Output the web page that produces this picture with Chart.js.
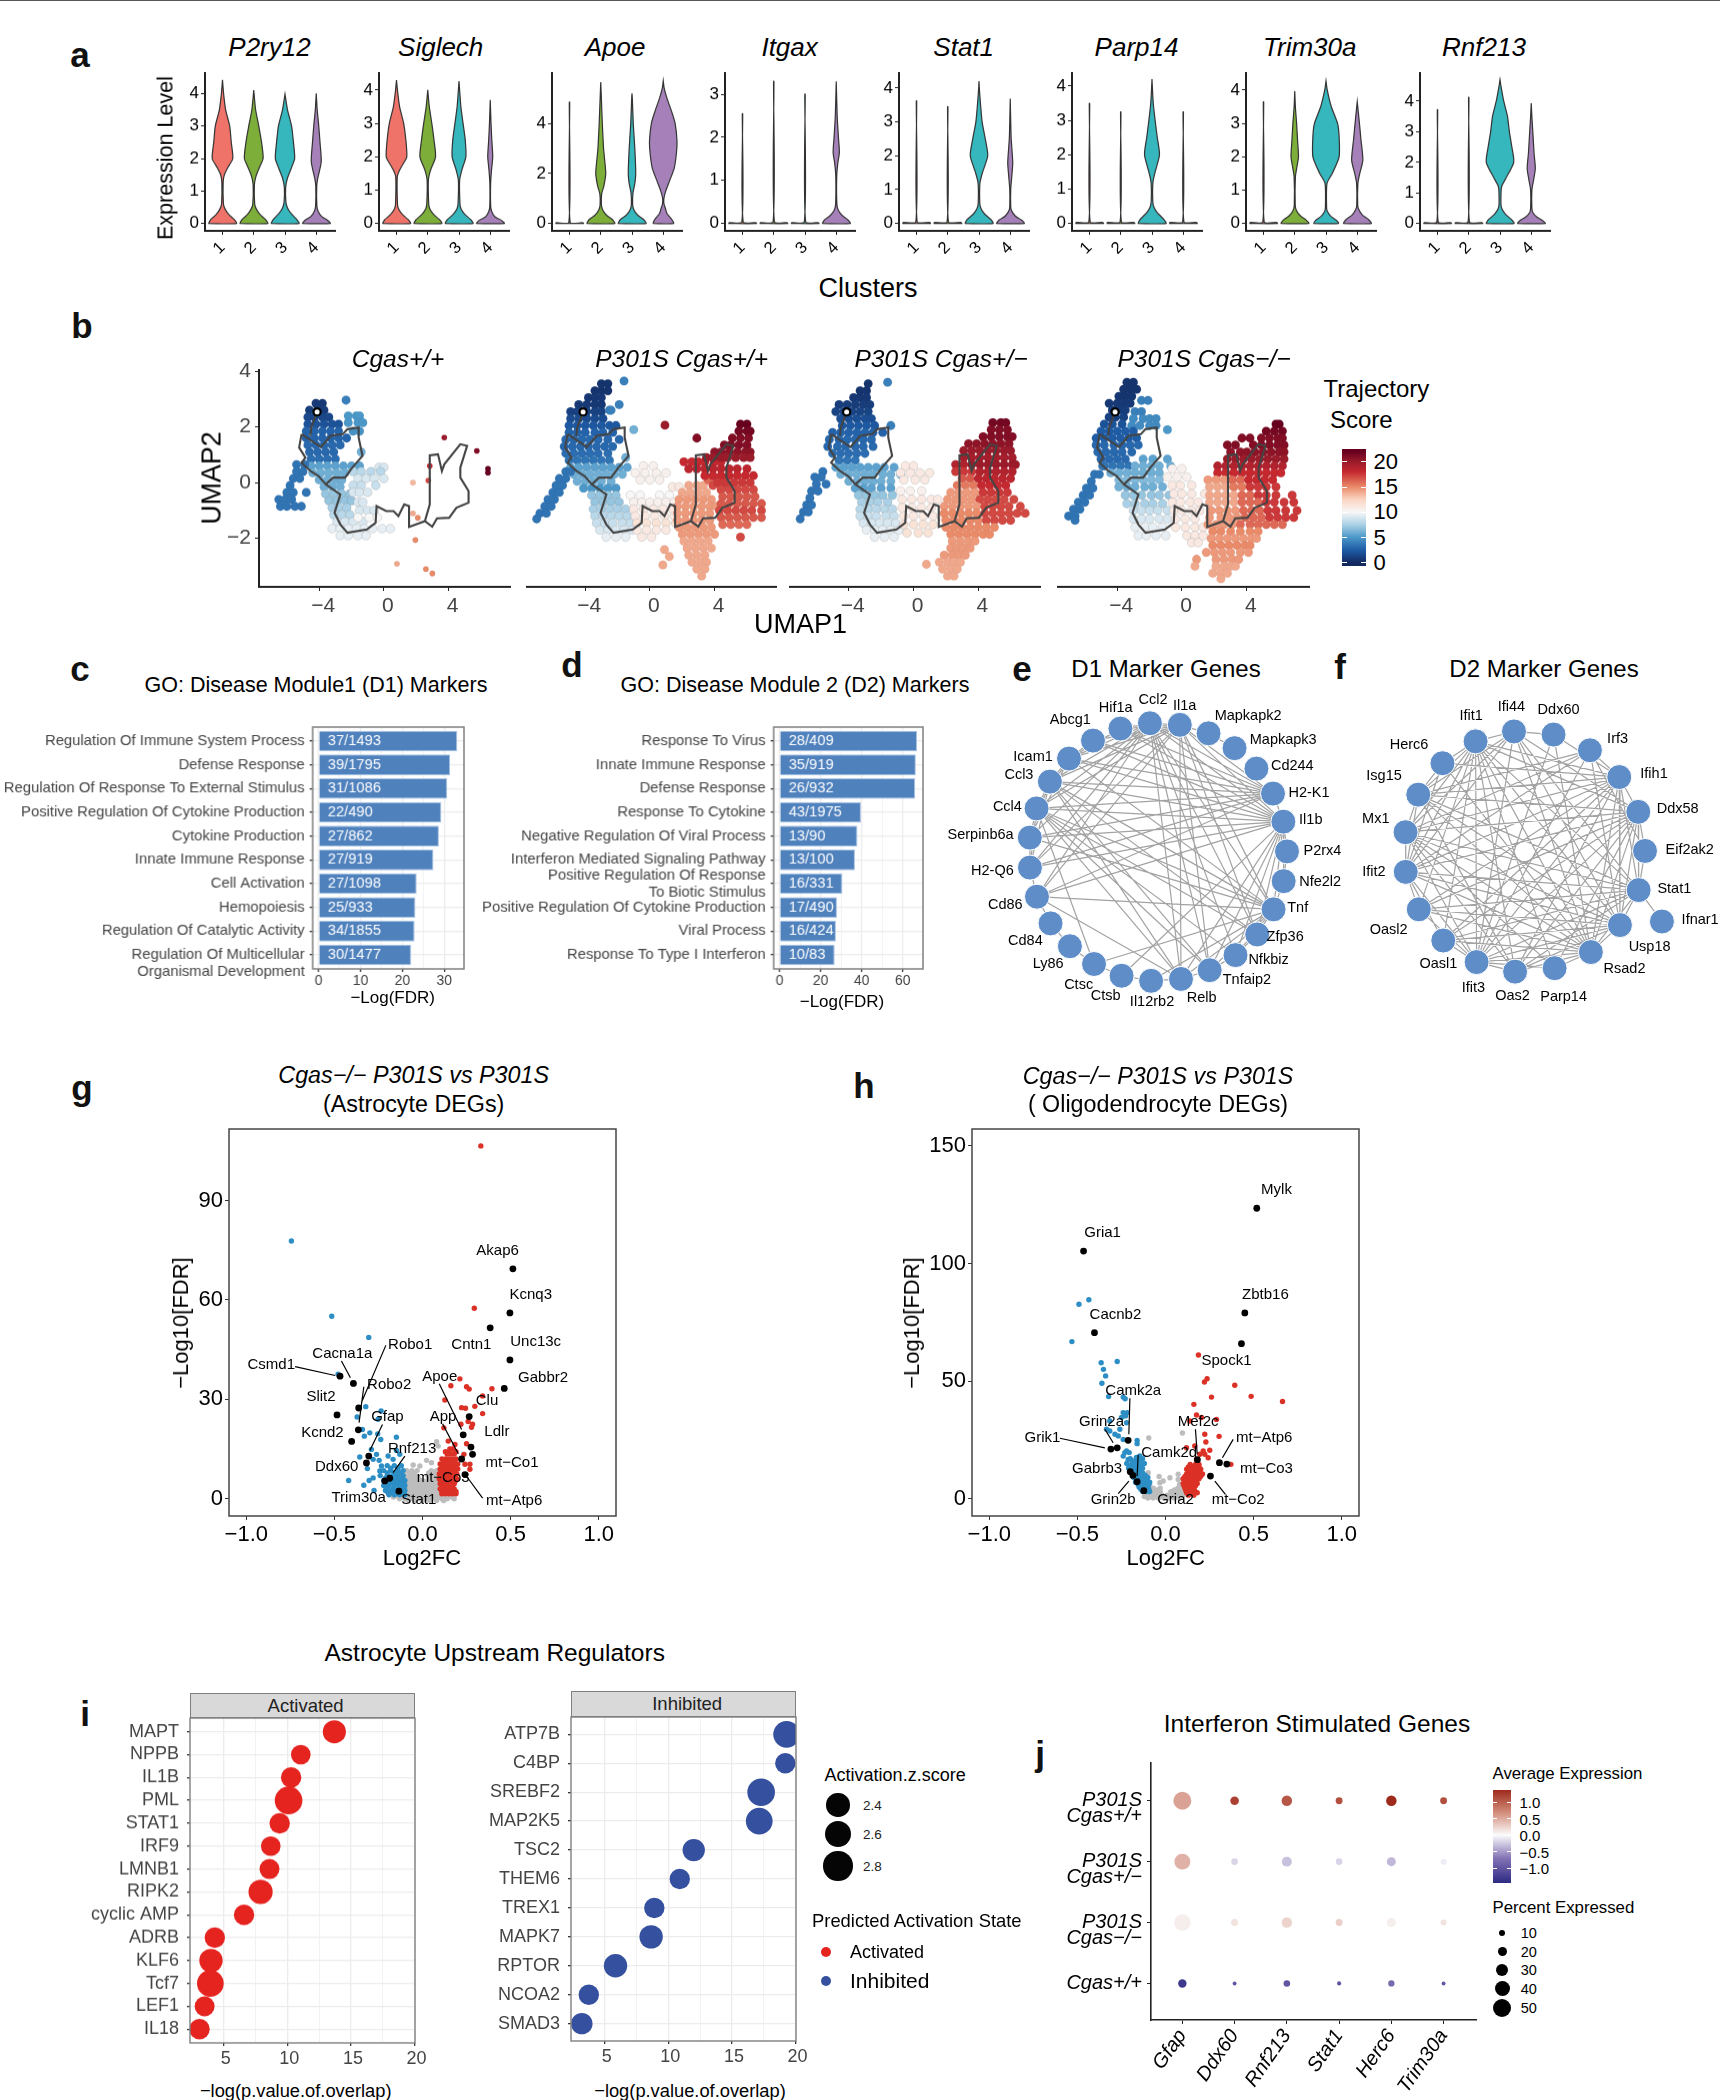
<!DOCTYPE html>
<html>
<head>
<meta charset="utf-8">
<title>Microglia panels</title>
<script src="https://cdn.jsdelivr.net/npm/chart.js@4"></script>
<style>
  body { margin: 0; background: #fff; }
  #figure { position: relative; width: 1720px; height: 2100px; overflow: hidden; border-top: 1px solid #555; box-sizing: border-box; }
  #figure canvas { position: absolute; }
  .txt { position: absolute; white-space: nowrap; font-family: "Liberation Sans", Arial, sans-serif; color: #000; }
</style>
</head>
<body>
<div id="figure"></div>
<script>
// ---- a: violins. Each violin is a flat list: y, half width, y, half width ...
const violinGenes = ['P2ry12', 'Siglech', 'Apoe', 'Itgax', 'Stat1', 'Parp14', 'Trim30a', 'Rnf213'];
const clusterTicks = [1, 2, 3, 4];
const clusterColors = ['#f0736a', '#7cae39', '#36b6bd', '#a681b9'];
const violinTop = [4.63, 4.51, 6.01, 3.49, 4.44, 4.38, 4.51, 4.92];
const violinBottom = [-0.226, -0.22, -0.293, -0.17, -0.217, -0.214, -0.22, -0.24];
const violinYTicks = [[0,1,2,3,4], [0,1,2,3,4], [0,2,4], [0,1,2,3], [0,1,2,3,4], [0,1,2,3,4], [0,1,2,3,4], [0,1,2,3,4]];
const violinP2ry12 = [
  [0,.45, .12,.38, .28,.2, .45,.08, .6,.03, 1.25,.02, 1.5,.06, 1.72,.17, 2,.33, 2.5,.28, 3,.23, 3.5,.1, 4,.035, 4.42,0],
  [0,.45, .12,.38, .28,.2, .45,.08, .6,.03, 1.2,.02, 1.45,.07, 1.7,.17, 2,.3, 2.5,.25, 3,.16, 3.5,.06, 4.1,0],
  [0,.45, .12,.38, .3,.2, .48,.08, .65,.03, 1.1,.02, 1.4,.08, 1.7,.2, 2,.31, 2.5,.27, 3,.21, 3.5,.08, 3.98,0],
  [0,.45, .1,.36, .22,.17, .38,.06, .55,.02, 1.15,.015, 1.4,.05, 1.9,.16, 2.5,.12, 3,.08, 3.5,.03, 4,0]
];
const violinSiglech = [
  [0,.45, .12,.37, .28,.18, .45,.06, .6,.03, 1.4,.025, 1.6,.1, 1.8,.22, 2,.33, 2.5,.3, 3,.23, 3.5,.1, 4,.03, 4.3,0],
  [0,.45, .12,.37, .28,.18, .45,.06, .6,.03, 1.3,.02, 1.6,.09, 2,.25, 2.5,.2, 3,.13, 3.5,.05, 4,0],
  [0,.45, .12,.37, .28,.18, .45,.06, .6,.03, 1.3,.02, 1.6,.09, 2,.22, 2.5,.2, 3,.13, 3.5,.06, 4,.02, 4.27,0],
  [0,.45, .1,.35, .2,.15, .35,.05, .5,.015, 1.2,.012, 1.6,.04, 2,.08, 2.5,.05, 3,.025, 3.7,0]
];
const violinApoe = [
  [0,.45, .03,.42, .05,.02, 4.85,.006],
  [0,.45, .15,.38, .35,.17, .55,.06, .75,.02, 1.2,.03, 1.5,.1, 2,.16, 2.6,.12, 3,.09, 4,.05, 5,.02, 5.65,0],
  [0,.45, .15,.38, .35,.17, .55,.06, .75,.02, 1.2,.03, 1.6,.09, 2,.12, 3,.09, 4,.04, 5,.01, 5.2,0],
  [0,.33, .15,.28, .4,.12, .6,.07, .8,.02, 1,.02, 1.3,.08, 1.7,.2, 2.2,.35, 2.8,.42, 3.3,.44, 4,.38, 4.5,.26, 5,.12, 5.4,.03, 5.7,0]
];
const violinItgax = [
  [0,.45, .02,.42, .04,.02, 2.55,.006],
  [0,.45, .02,.42, .04,.02, 3.3,.006],
  [0,.45, .02,.42, .04,.02, 3,.006],
  [0,.45, .08,.38, .18,.2, .3,.07, .45,.02, 1.1,.015, 1.4,.05, 1.65,.1, 2,.07, 2.5,.03, 3.3,0]
];
const violinStat1 = [
  [0,.45, .03,.42, .05,.02, 3.62,.006],
  [0,.45, .03,.42, .05,.02, 3.45,.006],
  [0,.45, .12,.38, .28,.18, .45,.06, .6,.025, 1.2,.03, 1.5,.11, 2,.28, 2.5,.2, 3,.1, 3.5,.05, 4,.01, 4.2,0],
  [0,.45, .1,.36, .22,.16, .38,.04, .5,.015, 1,.015, 1.4,.05, 1.8,.08, 2.5,.03, 3,.015, 3.68,0]
];
const violinParp14 = [
  [0,.45, .03,.42, .05,.02, 3.5,.006],
  [0,.45, .03,.42, .05,.02, 3.25,.006],
  [0,.45, .12,.38, .3,.18, .48,.06, .65,.025, 1.2,.03, 1.5,.1, 2,.24, 2.5,.17, 3,.1, 3.5,.04, 4,.01, 4.2,0],
  [0,.45, .03,.42, .05,.02, 3.25,.006]
];
const violinTrim30a = [
  [0,.45, .03,.42, .05,.02, 3.65,.006],
  [0,.45, .1,.37, .24,.17, .4,.05, .55,.015, 1.4,.02, 1.7,.07, 2,.12, 2.5,.09, 3,.06, 3.5,.02, 3.97,0],
  [0,.4, .1,.33, .22,.15, .35,.05, .45,.02, 1.2,.03, 1.5,.2, 2,.42, 2.6,.42, 3,.37, 3.5,.17, 4,.04, 4.27,0],
  [0,.45, .12,.36, .26,.16, .42,.05, .55,.015, 1.2,.02, 1.5,.08, 1.9,.18, 2.5,.12, 3,.07, 3.65,0]
];
const violinRnf213 = [
  [0,.45, .03,.42, .05,.02, 3.72,.006],
  [0,.45, .03,.42, .05,.02, 4.13,.006],
  [0,.45, .12,.38, .3,.18, .48,.06, .65,.03, 1.2,.05, 1.5,.2, 2,.44, 2.5,.38, 3,.3, 3.5,.24, 4,.12, 4.5,.03, 4.7,0],
  [0,.45, .1,.36, .22,.17, .36,.05, .5,.02, 1.1,.02, 1.4,.07, 1.8,.13, 2.3,.09, 3,.05, 3.5,.02, 3.93,0]
];
const violinSets = [violinP2ry12, violinSiglech, violinApoe, violinItgax, violinStat1, violinParp14, violinTrim30a, violinRnf213];

// ---- b: UMAP clouds. Each row: score, umap2, then the umap1 values read on that row
const umapTitles = ['Cgas+/+', 'P301S Cgas+/+', 'P301S Cgas+/−', 'P301S Cgas−/−'];
const umapXTicks = [-4, 0, 4];
const umapYTicks = [-2, 0, 2, 4];
const umapWt = [
  [.8,2.85,-4.2,-3.8], [1,2.6,-4.6,-4.1,-3.7], [1.5,2.35,-4.7,-4.3,-3.8,-3.4], [2,2.1,-4.7,-4.2,-3.7,-3.2,-2.8],
  [2.8,1.85,-4.8,-4.3,-3.8,-3.3,-2.8], [2.8,1.6,-4.8,-4.3,-3.8,-3.3,-2.8,-2.3], [3,1.35,-4.7,-4.2,-3.7,-3.2,-2.7],
  [3,1.1,-4.6,-4.1,-3.6,-3.1], [3.2,.85,-4.5,-4,-3.5,-3], [5.5,.6,-4.5,-4,-3.5,-3,-2.5,-2,-1.5], [6,.35,-4.4,-3.9,-3.4,-2.9,-2.4],
  [6,.1,-4,-3.5,-3,-2.6], [6,-.15,-3.7,-3.2,-2.7], [7,-.4,-3.6,-3.1,-2.6,-2.1], [7,-.65,-3.4,-2.9,-2.4,-2], [7.5,-.9,-3.2,-2.8,-2.3],
  [8,-1.15,-3.1,-2.6,-2.1], [9,-1.4,-2.9,-2.4,-1.9,-1.3], [9.5,-1.65,-3.2,-2.7,-2.2,-1.7,-1.2,-.7,-.1,.4], [9.5,-1.9,-2.7,-2.2,-1.6,-1.1],
  [5,2.4,-2.2,-1.7,-1.5], [5,2.15,-2.2,-1.6,-1.3], [4.8,1.85,-1.9,-1.5], [6,1.1,-1.4],
  [9,.55,-.3,0], [8,.4,-1.9,-1.4,-.8,-.2], [9,.15,-1.6,-1.1,-.6,0], [8.5,-.1,-1.9,-1.4,-.5], [9,-.35,-1.9,-1.5,-1], [9,-.7,-1.6,-1.3], [9,-1,-1.5,-1,-.6], [10,-1.25,-1.6,-.9,-.4],
  [3.5,.65,-5.4,-4.9], [3.5,.4,-5.4,-5], [3.5,.15,-5.6,-5.2], [3.5,-.1,-5.8], [3.5,-.35,-6,-5.6,-4.8], [3.5,-.6,-6.5,-6.1,-5.7], [3.5,-.85,-6.4,-6,-5.5,-5.1],
  [4,2.96,-2.34], [20,1.62,3.74], [21,1.14,5.75], [22,.5,6.44], [22,.36,6.44], [18,.6,2.84], [17,.08,2.75], [13.5,0,1.8], [14,-1.1,1.8], [15,-1.26,2.1], [15,-2.06,1.95], [14,-2.91,.81], [15,-3.1,2.6], [15,-3.26,3]
];
const umapP301S = [
  [4,3.65,-1.6], [.5,3.55,-3,-2.6], [.5,3.3,-3.4,-3,-2.6], [.7,3.05,-3.8,-3.4,-3], [.8,2.8,-4.4,-3.9,-3.4,-3], [4,2.8,-1.9], [1.2,2.55,-4.9,-4.5,-3.9,-3.4,-3], [4,2.6,-2.5,-2.4],
  [1.7,2.3,-4.9,-4.4,-3.9,-3.4,-2.9], [2.3,2.05,-5,-4.5,-4,-3.5,-3,-2.5,-2.1], [2.8,1.8,-5,-4.5,-4,-3.4,-2.9,-2.3], [3,1.55,-5.2,-4.7,-4.2,-3.7,-3.2,-2.6,-1.9], [6,1.9,-1],
  [3,1.3,-5.3,-4.8,-4.3,-3.8,-3.3,-2.8,-2.3], [3.2,1.05,-5.2,-4.7,-4.2,-3.7,-3.2,-2.6], [6,.9,-1.5], [3.5,.8,-5,-4.5,-4,-3.5,-3,-2.5],
  [5.5,.55,-4.9,-4.4,-3.9,-3.4,-2.9,-2.4,-1.9,-1.4], [6,.3,-4.7,-4.2,-3.7,-3.2,-2.7,-2.2,-1.7], [6,.05,-4.5,-4,-3.5,-3,-2.4], [5,-.2,-4.1,-3.6,-3.1,-2.6,-2.1],
  [7,-.45,-3.6,-3.1,-2.6,-2.1], [7,-.7,-3.4,-2.9,-2.4,-1.9], [7.5,-.95,-3.5,-3,-2.5,-2,-1.5], [8,-1.2,-3.4,-2.9,-2.4,-1.9,-1.4], [8.5,-1.45,-3.3,-2.8,-2.3,-1.7,-1.2], [9,-1.7,-3.1,-2.6,-2.1,-1.6,-1.1], [9.5,-1.95,-2.7,-2.1,-1.5],
  [3.5,.4,-5.2,-4.9], [3.5,.15,-5.6,-5.2], [3.5,-.1,-5.8,-5.4], [3.5,-.35,-6,-5.6], [3.5,-.6,-6.3,-5.9], [3.5,-.85,-6.5,-6.1], [3.5,-1.1,-6.8,-6.4], [3.5,-1.3,-7],
  [10.5,.6,-.4,.2], [10.5,.35,-.9,-.3,.4,1], [10.5,.1,-.6,0,.6], [11,-.15,1.4,1.8], [10,-.45,-1.2,-.6,.6,1.2], [10.5,-.7,-1,-.5,0,.5,1,1.5], [11,-.95,-1,-.4,.2,.8,1.4], [11,-1.2,-.9,-.3,.3,.9,1.5], [11.5,-1.45,-.8,-.2,.4,1,1.6], [11,-1.7,-.8,-.2,.4,1], [11,-1.95,-.5,.1],
  [14,-.1,2.4,2.9,3.3], [14,-.35,2,2.5,3,3.5], [14.5,-.6,1.8,2.3,2.8,3.3,3.8], [14.5,-.85,1.7,2.2,2.7,3.2,3.7,4.1], [14.5,-1.1,1.7,2.2,2.7,3.2,3.7], [14.5,-1.35,1.7,2.2,2.7,3.2,3.7], [14.5,-1.6,1.8,2.3,2.8,3.3,3.8], [14.5,-1.85,2,2.5,3,3.5,4], [14,-2.1,2.1,2.6,3.1,3.6], [14,-2.35,2.3,2.8,3.3,3.8], [14,-2.6,2.4,2.9,3.4], [14,-2.85,2.6,3.1,3.5], [14,-3.1,2.9,3.4], [14,-3.35,3.2], [14,-2.4,.9], [14,-2.95,.8], [14,-2.65,1.2],
  [16,.1,3.6,4,4.5], [17,-.1,3.9,4.4,4.9], [18,.75,2.1,2.6,3,3.4,4,4.4], [18.5,.5,2.4,2.9,3.4,3.9,4.4,4.9,5.4,6], [18,.25,3.4,3.9,4.4,4.9,5.4,5.9,6.4], [17.5,0,4.2,4.7,5.2,5.7,6.2], [17,-.25,4.4,4.9,5.4,5.9,6.4], [16.5,-.5,4.5,5,5.5,6,6.5], [16.5,-.75,4.4,4.9,5.4,5.9,6.4,6.9], [17,-1,4.3,4.8,5.3,5.8,6.3,6.9], [16.5,-1.25,4.4,4.9,5.4,5.9,6.4,6.9], [16,-1.5,4.5,5,5.5,6], [17,-1.95,5.6],
  [22,2.1,5.6,6], [21.5,1.85,5.5,6,6.2], [21,1.6,2.9,5.1,5.6,6.1], [21,1.35,4.6,5,5.5,6], [20.5,1.1,4,4.4,4.9,5.4,5.9,6.2], [20,.9,3.5,3.9,4.4,4.8,5.3,5.8,6.2], [20,2.06,.93]
];
const umapHet = [
  [4,3.6,-1.6], [.5,3.55,-2.8], [.5,3.3,-3.3,-2.9], [.7,3.05,-3.7,-3.3,-2.9], [1,2.8,-4.6,-4.1,-3.6,-3.1,-2.7], [1.3,2.55,-4.8,-4.3,-3.8,-3.3,-2.8], [1.8,2.3,-4.5,-4,-3.5,-3,-2.6],
  [2.3,2.05,-4.4,-3.9,-3.4,-2.9,-2.4], [4,2.05,-1.4], [2.8,1.8,-5,-4.5,-4,-3.5,-3,-2.5,-1.9], [3,1.55,-5.2,-4.6,-4.1,-3.6,-3.1,-2.6], [3,1.3,-5.3,-4.7,-4.2,-3.6,-3.1,-2.5], [3.2,1.05,-5,-4.5,-4,-3.5,-3], [3.5,.8,-4.6,-4.1,-3.6],
  [5.5,.55,-4.8,-4.3,-3.8,-3.3,-2.8,-2.3,-1.8,-1.2], [6,.3,-4.5,-4,-3.5,-3,-2.5,-1.9,-1.4,-.8], [6,.05,-4,-3.5,-3,-2.5,-2,-1.4], [5.5,-.2,-3.6,-3.1,-2.6,-2,-1.4], [7,-.45,-3.4,-2.9,-2.4,-1.9,-1.3], [7.5,-.7,-3.2,-2.7,-2.2,-1.6], [8,-.95,-3.3,-2.8,-2.3,-1.8,-1.3], [8.5,-1.2,-3.3,-2.8,-2.3,-1.7,-1.2], [9,-1.45,-3.1,-2.6,-2.1,-1.6,-1.1], [9.5,-1.7,-2.9,-2.4,-1.9,-1.4,-.9], [9.5,-1.95,-2.4,-1.8,-1.2],
  [3.5,.4,-5.6], [3.5,.2,-6.1,-5.7], [3.5,-.05,-6,-5.4], [3.5,-.3,-6.3,-5.9], [3.5,-.55,-6.4], [3.5,-.8,-6.6,-6.3], [3.5,-1.05,-6.8,-6.5], [3.5,-1.3,-7],
  [11,.6,-.5,0], [11,.35,-.8,-.2,.4,1], [11,.1,-.6,.1,.7], [10.5,-.3,-.8,-.2,.5], [11,-.6,-.7,-.1,.5,1.1,1.5], [11,-.9,-.7,-.1,.5,1.1], [11,-1.2,-.6,0,.6,1.2,1.7], [11.5,-1.5,-.6,0,.6,1.2], [11.5,-1.8,-.4,.3,.9],
  [21.5,2.15,4.9,5.4,5.7], [21,1.9,4.8,5.3,5.8], [21,1.65,4.3,4.8,5.3,5.8,6.1], [20.5,1.4,3.4,3.9,4.4,4.9,5.4,5.9], [20,1.15,3.1,3.6,4.1,4.6,5.1,5.6,6], [19.5,.9,3.1,3.6,4.1,4.6,5.1,5.6,6.1],
  [19,.65,2.6,3.1], [20,.65,3.6,4.1,4.6,5.1,5.6,6.1,6.3], [17.5,.4,2.6,3.1,3.6], [19,.4,4.1,4.6,5.1,5.6,6.1], [16.5,.15,3,3.5], [18.5,.15,4,4.5,5,5.5,6], [15.5,-.1,2.7,3.2,3.7], [18,-.1,4.2,4.7,5.2,5.7],
  [14.5,-.35,2.3,2.8,3.3,3.8], [17.5,-.35,4.3,4.8,5.3,5.8], [14.5,-.6,2.1,2.6,3.1,3.6], [17,-.6,4.1,4.6,5.1,5.6,6.2], [14.5,-.85,1.9,2.4,2.9,3.4,3.9], [17,-.85,4.4,4.9,5.4,5.9,6.6], [15,-1.1,1.9,2.4,2.9,3.4,3.9], [17,-1.1,4.4,4.9,5.4,5.9,6.4,6.9], [15,-1.35,2,2.5,3,3.5,4], [17,-1.35,4.5,5,5.5,6],
  [15,-1.6,2,2.5,3,3.5,4,4.5,5], [15,-1.85,2.3,2.8,3.3,3.8,4.3,4.7], [14.5,-2.1,2.4,2.9,3.4,3.8], [14.5,-2.35,2.3,2.7,3.1,3.5], [14.5,-2.6,1.9,2.4,2.8,3.2], [14,-2.85,1.6,2.1,2.5,2.9], [14,-3.1,1.8,2.3,2.7], [14,-3.35,2.1,2.5], [14,-2.93,.8]
];
const umapKo = [
  [.5,3.6,-3.4,-3], [.5,3.35,-3.6,-3.2,-2.8], [.6,3.1,-3.9,-3.5,-3.1], [.8,2.85,-4.5,-4,-3.6,-3.2], [1,2.6,-4.3,-3.9,-3.5], [1.2,2.35,-4.5,-4.1,-3.6],
  [4,2.95,-2.5,-2.1], [4,2.55,-2.9,-2.5], [4.5,2.3,-3,-2.4,-2,-1.6], [4.5,2.05,-3.1,-2.6,-2,-1.6], [5,1.9,-.9],
  [2,2.1,-4.8,-4.3,-3.7], [2.5,1.85,-5,-4.5,-4,-3.5,-3], [2.5,1.6,-5.3,-4.8,-4.3,-3.8,-3.3,-2.8], [3,1.35,-5.3,-4.8,-4.2,-3.7,-3.2,-2.7], [3,1.1,-5.2,-4.7,-4.2,-3.7,-3.1], [3,.85,-5,-4.5,-4,-3.5], [3.5,.6,-4.8,-4.3,-3.8,-3.3],
  [5.5,.85,-2.4,-1.8,-.9], [6,.6,-2.9,-2.4,-1.9,-1.4,-.7], [6,.35,-4.4,-3.9,-3.4,-2.9,-2.4,-1.9,-1.4], [6.5,.1,-3.9,-3.4,-2.9,-2.4,-1.9,-1.4], [6,-.15,-3.9,-3.4,-2.9,-2.3,-1.8,-1.2], [7,-.45,-3.5,-3,-2.5,-1.9,-1.4,-.8], [7.5,-.75,-3.4,-2.9,-2.3,-1.8,-1.2], [8.5,-1,-3,-2.5,-2,-1.5,-.9], [9,-1.3,-3,-2.5,-2,-1.4,-.9], [9.5,-1.6,-2.9,-2.3,-1.8,-1.2], [9.5,-1.9,-2.7,-2.2,-1.6,-1],
  [10.5,.5,-.6,0], [10.5,.2,-.9,-.3,.3], [11,-.1,-.6,-.1,.6], [11,-.4,-.5,0,.6,1.4], [11,-.7,-.6,-.1,.5,1], [11,-1,-.5,0,.6,1.1], [11,-1.3,-.4,.2,.8], [11,-1.6,-.4,.2,.8,1.3], [11,-1.9,.3,.8,1.3], [11,-2.15,.6,1],
  [3.5,.6,-4.9], [3.5,.3,-5.4,-5.1], [3.5,.05,-5.6], [3.5,-.2,-5.9,-5.5], [3.5,-.45,-6.1,-5.7], [3.5,-.7,-6.4,-6], [3.5,-.95,-6.7,-6.3], [3.5,-1.2,-7,-6.6], [3.5,-1.35,-6.6],
  [22,2.1,5.8,6], [21.5,1.85,5.2,5.7,6.2], [21,1.6,3.7,4.2,4.9,5.4,5.9,6.2], [21,1.35,2.8,3.3,4.4,4.9,5.4,5.9,6.3], [20.5,1.1,3,3.6,4,4.5,5,5.5,6,6.3], [20,.85,2.8,3.3,3.8,4.3,4.8,5.3,5.8,6.3], [19,.6,2.2,2.7,3.2,3.7,4.2,4.7,5.2,5.7,6.2], [18,.35,2.2,2.7,3.2,3.7,4.2,4.7,5.2,5.7,6.1],
  [14.5,.1,1.6,2.1,2.6], [16,.1,3.1,3.6], [18,.1,4.1,4.6,5.1,5.6], [14,-.15,1.7,2.2,2.7], [15.5,-.15,3.2,3.7], [17.5,-.15,4.2,4.7,5.2,5.8], [14,-.45,1.7,2.2,2.7,3.2], [16,-.45,3.7,4.2], [17.5,-.45,4.7,5.2,5.8,6.8], [14,-.7,1.7,2.2,2.7,3.2], [16,-.7,3.7,4.2,4.7], [17.5,-.7,5.2,5.7,6.3,6.9], [14.5,-1,1.8,2.3,2.8,3.3], [16,-1,3.8,4.3,4.8], [17.5,-1,5.3,5.8,6.4,7.1], [14.5,-1.25,1.7,2.4,2.9,3.4], [16,-1.25,3.9,4.4,4.9], [17.5,-1.25,5.4,5.9,6.4,6.9], [14.5,-1.5,1.6,2.1,2.6,3.1], [16,-1.5,3.6,4.2,4.7,5.2,5.7,6.2],
  [15,-1.75,1.9,2.4,3,3.6,4.2,4.7], [14.5,-2,1.8,2.3,2.8,3.3,3.8,4.3,4.6], [15,-2.25,1.9,2.4,2.9,3.4,3.9,4.2], [14.5,-2.5,1.5,2,2.5,3,3.6,4.1], [14.5,-2.75,.9,2.1,2.6,3.1,3.5], [14,-3,.8,2.1,2.6,3,3.3], [14,-3.25,1.9,2.4,2.8], [14,-3.45,2.4]
];
const umapSets = [umapWt, umapP301S, umapHet, umapKo];
const trajRoot = [[-4.13,2.54], [-4.49,1.98], [-4.55,1.68]];
const trajLoop = [[-5.09,1.74], [-3.89,1.28], [-3.29,1.68], [-2.54,1.74], [-2.25,1.92], [-1.56,1.98], [-1.56,1.62], [-1.32,.96], [-1.95,.54], [-2.4,.18], [-3.14,.18], [-3.59,-.06], [-4.04,.24], [-4.55,.42], [-5.09,.72], [-4.85,.9], [-5.24,1.26], [-5.09,1.74]];
const trajTail = [[-3.59,-.06], [-2.69,-.42], [-3.05,-1.08], [-2.69,-1.5], [-2.25,-1.8], [-1.05,-1.68], [-.51,-1.44], [-.45,-.84], [.15,-1.02], [.6,-1.02], [.9,-1.2], [1.26,-.78], [1.56,-.84], [1.56,-1.59], [2.54,-1.38], [2.99,-1.58], [3.29,-1.28], [4.04,-1.26], [4.49,-.9], [5.24,-.72], [5.24,-.3], [4.73,.18], [4.73,.54], [5.15,1.32], [4.73,1.38], [3.74,.66], [3.59,.42], [3.35,1.02], [2.84,.98], [2.84,-.78], [2.54,-1.38]];
const scoreStops = [[0,'#12295f'], [2.5,'#1f5ca6'], [5,'#4a97c8'], [7.5,'#a9d0e6'], [10,'#f7f7f7'], [12.5,'#fbd5c2'], [15,'#e98a69'], [18,'#c5282f'], [20,'#9a1b2a'], [22,'#67001f']];

// ---- c, d: GO terms
const goD1Terms = ['Regulation Of Immune System Process', 'Defense Response', 'Regulation Of Response To External Stimulus', 'Positive Regulation Of Cytokine Production', 'Cytokine Production', 'Innate Immune Response', 'Cell Activation', 'Hemopoiesis', 'Regulation Of Catalytic Activity', ['', 'Regulation Of Multicellular', 'Organismal Development']];
const goD1Values = [33.1, 31.4, 30.7, 29.3, 28.7, 27.4, 23.4, 23.1, 22.9, 22.1];
const goD1Counts = ['37/1493', '39/1795', '31/1086', '22/490', '27/862', '27/919', '27/1098', '25/933', '34/1855', '30/1477'];
const goD2Terms = ['Response To Virus', 'Innate Immune Response', 'Defense Response', 'Response To Cytokine', 'Negative Regulation Of Viral Process', 'Interferon Mediated Signaling Pathway', ['Positive Regulation Of Response', 'To Biotic Stimulus'], 'Positive Regulation Of Cytokine Production', 'Viral Process', 'Response To Type I Interferon'];
const goD2Values = [67, 66.4, 66.1, 39.6, 37.9, 36.7, 30.6, 28, 27.4, 26.8];
const goD2Counts = ['28/409', '35/919', '26/932', '43/1975', '13/90', '13/100', '16/331', '17/490', '16/424', '10/83'];

// ---- e, f: networks. Edge rows: hub index, then its neighbours
const d1Genes = ['Ccl2','Il1a','Mapkapk2','Mapkapk3','Cd244','H2-K1','Il1b','P2rx4','Nfe2l2','Tnf','Zfp36','Nfkbiz','Tnfaip2','Relb','Il12rb2','Ctsb','Ctsc','Ly86','Cd84','Cd86','H2-Q6','Serpinb6a','Ccl4','Ccl3','Icam1','Abcg1','Hif1a'];
const d1Edges = [
  [6,0,1,26,25,24,23,22,21,20,19,9,8,7,13,12,11,10,15,5],
  [5,0,1,26,25,24,23,22,21,20,19],
  [9,0,1,24,23,22,21,19,8,10,11,12,13,14,16],
  [0,1,26,25,24,23,22,21,20,19,12,11,13,10],
  [1,2,26,25,24,23,22,20,13,12,10,19],
  [22,23,24,21,20,13,11,10,12,16],
  [23,24,25,21,20,12,13,10],
  [24,25,26,21],
  [19,18,20,13],
  [2,3],[17,18,16],[16,15],[15,14],[14,13],[13,12],[12,11],[11,10],[8,7],[21,20]
];
const d2Genes = ['Ifi44','Ddx60','Irf3','Ifih1','Ddx58','Eif2ak2','Stat1','Usp18','Rsad2','Parp14','Oas2','Ifit3','Oasl1','Oasl2','Ifit2','Mx1','Isg15','Herc6','Ifit1'];
const d2Edges = [
  [3,18,16,15,14,13,12,11,10,8,7,6,4,2,1,17],
  [4,18,0,16,15,14,13,12,11,10,9,8,7,6,5],
  [6,18,0,16,15,14,13,12,11,10,8,7,5,19],
  [7,18,0,2,16,15,14,13,12,11,10,8],
  [8,18,0,1,3,16,15,14,13,12,11,10,9,17],
  [11,18,0,1,2,15,14,13,12,10,9],
  [18,17,16,15,14,13,12,0,9,10],
  [15,14,16,0,2,10,9],
  [14,13,12,0,2,16,17],
  [16,17,0,2,10],
  [0,1],[2,5]
];

// ---- g: astrocyte volcano. Rows of dense clouds: y, then x values
const astroGrey = [[.08,17.2],[.023,11.6],[-.053,10.2],[-.015,9.9],[.051,10.9],[.089,15.9]];
const astroGreyRows = [[8.5,-.09,-.06,-.03,.05,.08], [7.8,-.075,-.045,.035,.065], [7,-.1,-.07,-.04,.03,.06,.09], [6.2,-.085,-.055,-.025,.045,.075], [5.5,-.09,-.06,-.03,0,.03,.06,.09], [4.8,-.085,-.055,-.025,.005,.035,.065], [4,-.1,-.07,-.04,-.01,.02,.05,.08,.1], [3.2,-.085,-.055,-.025,.005,.035,.065,.095], [2.5,-.1,-.07,-.04,-.01,.02,.05,.08,.11], [1.8,-.115,-.085,-.055,-.025,.005,.035,.065,.095], [1,-.15,-.12,-.09,-.06,-.03,0,.03,.06,.09,.12,.15], [.5,-.165,-.135,-.105,-.075,-.045,-.015,.015,.045,.075,.105,.135,.165], [0,-.13,-.1,-.07,-.04,-.01,.02,.05,.08,.11,.14,.18], [-.5,-.08,-.04,0,.04,.08,.12]];
const astroBlue = [[-.744,77.8],[-.515,55.1],[-.305,48.7],[-.479,37.6],[-.322,27.8],[-.235,26.5],[-.371,24.7],[-.252,24],[-.341,20.9],[-.299,19.9],[-.33,18.9],[-.254,19.6],[-.237,17.9],[-.148,18.6],[-.29,14.9],[-.356,12.6],[-.261,13.4],[-.246,11.6],[-.28,11.9],[-.313,9.1],[-.419,5.5],[-.333,4.1],[-.28,6.3],[-.275,2.5],[-.303,5.5],[-.242,8.4],[-.233,9.9],[-.195,12.9],[-.148,14.6],[-.167,11.9],[-.129,13.4]];
const astroBlueRows = [[10,-.2,-.16,-.12], [9.2,-.18,-.14], [8.5,-.22,-.18,-.14,-.11], [7.8,-.2,-.16,-.12], [7,-.24,-.2,-.17,-.14,-.11], [6.2,-.21,-.175,-.145,-.115], [5.5,-.22,-.19,-.16,-.13,-.1], [4.8,-.205,-.175,-.145,-.115], [4,-.22,-.19,-.16,-.13,-.1], [3.2,-.205,-.165,-.135,-.105], [2.5,-.21,-.18,-.15,-.12,-.1], [1.8,-.195,-.165,-.135,-.105], [1.2,-.19,-.16,-.13,-.1]];
const astroRed = [[.331,106.5],[.294,57.5],[.212,36.2],[.161,34.1],[.25,33.8],[.265,33.1],[.394,33.2],[.341,31],[.127,29.8],[.297,27.9],[.222,27.5],[.244,27.3],[.341,25.7],[.259,23.3],[.218,22.5],[.284,22.5],[.278,21.6],[.121,21.4],[.146,17.4],[.25,16.6],[.184,16.4],[.235,13.4],[.269,10.4],[.269,8.9],[.241,10.4]];
const astroRedRows = [[15,.155,.17], [14.2,.13,.15,.19], [13.5,.14,.16,.18], [12,.11,.13,.15,.17,.19], [11.2,.12,.14,.16,.18], [10.5,.1,.12,.14,.16,.18,.2], [9.7,.11,.13,.15,.17,.19], [9,.1,.12,.14,.16,.18,.2], [8.2,.105,.125,.145,.165,.185], [7.5,.095,.115,.135,.155,.175,.195], [6.8,.105,.125,.145,.165,.185], [6,.095,.115,.135,.155,.175,.195], [5.2,.105,.125,.145,.165,.185], [4.5,.1,.12,.14,.16,.18], [3.7,.11,.13,.15,.17], [3,.1,.12,.14,.16,.18], [2.2,.11,.13,.15,.17,.19], [1.5,.11,.13,.15,.17,.19]];
const astroBlack = [[.513,69.4],[.496,56.1],[.384,51.6],[.496,41.9],[.464,33.3],[-.468,37],[-.392,34.8],[-.362,27.4],[-.485,25.3],[-.364,20.8],[-.402,17.3],[-.305,12.9],[-.318,10.8],[-.186,6.2],[-.214,5.4],[-.134,2.3],[.265,24.8],[.231,19.3],[.275,15.6],[.284,13.4],[.222,12],[.241,7.3]];
const astroLabels = [['Akap6',.426,74.8],['Kcnq3',.614,61.6],['Cntn1',.277,46.4],['Unc13c',.642,47.3],['Gabbr2',.684,36.6],['Csmd1',-.858,40.3],['Cacna1a',-.455,43.8],['Robo1',-.07,46.5],['Robo2',-.189,34.3],['Slit2',-.576,30.8],['Gfap',-.199,24.6],['Kcnd2',-.568,20],['Rnf213',-.059,15.2],['Ddx60',-.487,9.6],['Trim30a',-.362,.2],['Stat1',-.021,-.4],['Apoe',.098,36.8],['App',.117,24.6],['Clu',.366,29.7],['Ldlr',.422,20.3],['mt−Co1',.508,10.8],['mt−Co3',.117,6.2],['mt−Atp6',.52,-.5]];
const astroLeaders = [[-.723,39.9,-.496,37.2],[-.46,41.6,-.409,36.5],[-.208,46.3,-.347,29],[-.333,33.8,-.36,23],[-.227,22.4,-.299,14.6],[-.1,12.9,-.167,7.9],[.095,34.7,.222,20.9],[.114,22.6,.203,13.6],[.341,.2,.25,6.8]];

// ---- h: oligodendrocyte volcano
const oligoGrey = [[-.095,25.8],[.096,27.9],[-.098,11],[-.036,9.4],[-.013,7.5],[.025,8.9],[-.032,6.8],[.072,10.4],[.072,8.2]];
const oligoGreyRows = [[6,-.09,.08], [4.5,-.1,-.07,-.03,.07,.1], [3.7,-.075,-.05,.05,.085], [3,-.09,-.06,-.03,.03,.06,.09], [2.2,-.1,-.07,-.04,.05,.08], [1.5,-.11,-.08,-.05,-.02,.01,.04,.07,.1], [.9,-.12,-.09,-.06,-.03,0,.03,.06,.09], [.3,-.1,-.07,-.04,-.01,.02,.05,.08]];
const oligoBlue = [[-.491,82.7],[-.435,84.6],[-.531,66.8],[-.365,57.8],[-.274,58.3],[-.352,55],[-.34,52.2],[-.361,49.1],[-.323,43.4],[-.24,43.2],[-.229,42.5],[-.24,36.6],[-.217,36.6],[-.227,35.2],[-.25,34.5],[-.221,32.3],[-.316,33],[-.335,29.5],[-.316,28.8],[-.259,29.5],[-.287,27.4],[-.268,26.7],[-.24,25.2],[-.161,24.8],[-.161,23.4],[-.221,20.3],[-.231,19.6],[-.206,19.6],[-.24,18.1],[-.212,16.7],[-.165,17.5],[-.146,18.2]];
const oligoBlueRows = [[17,-.2,-.16,-.13], [16,-.18,-.145], [15,-.22,-.19,-.16,-.12], [14,-.205,-.175,-.14], [13,-.21,-.18,-.15,-.13], [12,-.195,-.165,-.14], [11,-.19,-.16,-.13], [10,-.17,-.145,-.115], [9,-.18,-.15,-.12,-.1], [8,-.165,-.135,-.105], [7,-.17,-.14,-.11,-.09], [6,-.155,-.125,-.095], [5,-.15,-.13,-.1], [4,-.14,-.115,-.095], [3,-.13,-.11,-.09]];
const oligoRed = [[.187,61.1],[.236,51],[.221,49.6],[.393,48.2],[.261,43.2],[.486,43.5],[.664,41.3],[.161,40.1],[.176,35.6],[.204,34.5],[.289,33.7],[.138,33],[.223,27.4],[.304,26.5],[.229,24.1],[.166,22.4],[.119,21.7],[.251,20.6],[.214,20.3],[.242,17.4],[.371,14.6],[.195,18.9],[.176,16.7],[.223,18.9]];
const oligoRedRows = [[14.5,.14,.17,.19], [13.5,.13,.16,.19], [12.5,.12,.15,.18,.2], [11.5,.13,.165,.195], [10.5,.12,.15,.18,.21], [9.5,.11,.14,.17,.2], [8.5,.1,.13,.16,.19], [7.5,.115,.145,.175], [6.5,.1,.13,.16,.18], [5.5,.105,.13,.15,.17], [4.5,.11,.13,.16], [3.5,.115,.14,.165], [2.5,.12,.15,.18], [1.5,.13,.16]];
const oligoBlack = [[.518,123.5],[-.465,105.3],[.45,79],[-.403,70.6],[.431,65.9],[-.212,24.8],[-.274,21.6],[-.31,21.1],[.181,16.6],[.306,15.3],[.348,14.7],[.255,9.6],[-.2,11.5],[-.185,9.9],[-.161,7.2],[-.123,3.4]];
const oligoLabels = [['Mylk',.63,131.2],['Gria1',-.357,112.9],['Zbtb16',.567,86.6],['Cacnb2',-.284,78.3],['Spock1',.346,58.4],['Camk2a',-.183,45.8],['Grin2a',-.363,32.5],['Grik1',-.698,25.9],['Mef2c',.185,32.5],['mt−Atp6',.56,25.8],['Camk2d',.021,19.3],['Gabrb3',-.388,12.6],['mt−Co3',.573,12.6],['Grin2b',-.297,-.7],['Gria2',.057,-.7],['mt−Co2',.412,-.7]];
const oligoLeaders = [[-.202,42.7,-.208,27.4],[-.344,29.5,-.297,23.8],[-.599,25.7,-.344,21.6],[.17,29.5,.18,18.9],[.384,25.2,.323,17.4],[-.155,18.6,-.161,9.6],[-.208,7.5,-.268,2.1],[.28,7.5,.34,1.8]];
const volcanoXTicks = [-1, -.5, 0, .5, 1];

// ---- i: upstream regulators
const activatedNames = ['MAPT','NPPB','IL1B','PML','STAT1','IRF9','LMNB1','RIPK2','cyclic AMP','ADRB','KLF6','Tcf7','LEF1','IL18'];
const activatedLogP = [13.7, 11.06, 10.3, 10.1, 9.4, 8.7, 8.6, 7.9, 6.6, 4.3, 4.0, 3.95, 3.5, 3.1];
const activatedZ = [2.38, 2.15, 2.2, 2.68, 2.2, 2.15, 2.17, 2.45, 2.2, 2.2, 2.4, 2.62, 2.17, 2.2];
const inhibitedNames = ['ATP7B','C4BP','SREBF2','MAP2K5','TSC2','THEM6','TREX1','MAPK7','RPTOR','NCOA2','SMAD3'];
const inhibitedLogP = [19.3, 19.2, 17.3, 17.15, 12, 10.9, 8.9, 8.65, 5.85, 3.75, 3.2];
const inhibitedZ = [2.62, 2.2, 2.68, 2.62, 2.33, 2.2, 2.2, 2.4, 2.4, 2.2, 2.27];
const regulatorTicks = [5, 7.5, 10, 12.5, 15, 17.5, 20];

// ---- j: dot plot
const dotGenes = ['Gfap','Ddx60','Rnf213','Stat1','Herc6','Trim30a'];
const dotGroups = [['', 'P301S', 'Cgas+/+'], ['', 'P301S', 'Cgas+/−'], ['', 'P301S', 'Cgas−/−'], 'Cgas+/+'];
const dotPercent = [[50,19,25,13,25,13], [43,12,23,12,20,10], [45,13,25,13,20,10], [18,3,12,4,11,3]];
const dotExpression = [[.55,1.2,1.05,1.1,1.4,1.1], [.45,-.2,-.3,-.2,-.35,-.08], [.08,.15,.25,.28,.08,.15], [-1.3,-1,-1,-1,-.8,-1]];
const exprStops = [[-1.45,'#2d2a83'], [-.7,'#8473b6'], [0,'#fbfbfb'], [.7,'#d18a78'], [1.36,'#9e2a1c']];

// ------------------------------------------------------------------ helpers
const FONT = '"Liberation Sans", Arial, sans-serif';
Chart.defaults.font.family = FONT;
const figure = document.getElementById('figure');

function addText(text, x, y, o = {}) {
    const div = document.createElement('div');
    div.className = 'txt';
    div.textContent = text;
    div.style.left = x + 'px';
    div.style.top = y + 'px';
    div.style.fontSize = (o.size || 16) + 'px';
    if (o.italic) div.style.fontStyle = 'italic';
    if (o.bold) div.style.fontWeight = 'bold';
    if (o.color) div.style.color = o.color;
    const shift = o.left ? 'translate(0,-50%)' : 'translate(-50%,-50%)';
    div.style.transform = shift + (o.rotate ? ` rotate(${o.rotate}deg)` : '');
    figure.appendChild(div);
}

function addBox(x, y, w, h, style) {
    const div = document.createElement('div');
    div.style.cssText = `position:absolute;left:${x}px;top:${y}px;width:${w}px;height:${h}px;box-sizing:border-box;` + style;
    figure.appendChild(div);
    return div;
}

function hexToRgb(hex) {
    return [1, 3, 5].map(i => parseInt(hex.substr(i, 2), 16));
}

function rampColor(stops, v) {
    if (v <= stops[0][0]) return stops[0][1];
    for (let i = 1; i < stops.length; i++) {
        if (v <= stops[i][0]) {
            const t = (v - stops[i - 1][0]) / (stops[i][0] - stops[i - 1][0]);
            const a = hexToRgb(stops[i - 1][1]), b = hexToRgb(stops[i][1]);
            return `rgb(${a.map((c, k) => Math.round(c + (b[k] - c) * t)).join(',')})`;
        }
    }
    return stops[stops.length - 1][1];
}

// linear axis with its ticks placed exactly where the figure has them
function axis(o) {
    const labelOf = o.label || (v => String(v).replace('-', '−'));
    return {
        type: 'linear', min: o.min, max: o.max, reverse: !!o.reverse, offset: false,
        display: o.display !== false,
        afterBuildTicks: s => { s.ticks = o.at.map(v => ({ value: v })); },
        ticks: {
            autoSkip: false, maxRotation: o.rotate || 0, minRotation: o.rotate || 0, padding: o.padding === undefined ? 3 : o.padding,
            labelOffset: o.labelOffset || 0, color: o.color || '#000', font: o.font, callback: labelOf
        },
        grid: Object.assign({ drawOnChartArea: false, color: '#222', tickLength: 4, offset: false }, o.grid || {}),
        border: Object.assign({ display: true, color: '#222', width: 1.6 }, o.border || {})
    };
}

// canvas sized so the chart area lands on rect, whatever the tick labels need
function makeChart(rect, m, config) {
    const canvas = document.createElement('canvas');
    const w = rect.r - rect.l + m.l + m.r, h = rect.b - rect.t + m.t + m.b;
    canvas.width = w;
    canvas.height = h;
    canvas.style.left = (rect.l - m.l) + 'px';
    canvas.style.top = (rect.t - m.t) + 'px';
    canvas.style.width = w + 'px';
    canvas.style.height = h + 'px';
    figure.appendChild(canvas);

    const x = config.options.scales.x, y = config.options.scales.y;
    x.afterFit = s => {
        if (x.display !== false) s.height = m.b;
        s.paddingLeft = s.paddingRight = s.paddingTop = s.paddingBottom = 0;
    };
    y.afterFit = s => {
        if (y.display !== false) s.width = m.l;
        s.paddingLeft = s.paddingRight = s.paddingTop = s.paddingBottom = 0;
    };
    config.options.responsive = false;
    config.options.animation = false;
    config.options.events = [];
    config.options.layout = { autoPadding: false, padding: {
        left: y.display === false ? m.l : 0, top: m.t, right: m.r, bottom: x.display === false ? m.b : 0
    } };
    config.options.plugins = Object.assign({ legend: { display: false }, tooltip: { enabled: false } }, config.options.plugins || {});
    return new Chart(canvas, config);
}

// fills the closed outline of line datasets that carry closedFill
const closedFillPlugin = {
    id: 'closedFill',
    beforeDatasetDraw(chart, args) {
        const ds = chart.data.datasets[args.index];
        if (!ds.closedFill) return;
        const line = args.meta.dataset, ctx = chart.ctx;
        line.updateControlPoints(chart.chartArea, 'x');
        ctx.save();
        ctx.beginPath();
        line.path(ctx);
        ctx.closePath();
        ctx.fillStyle = ds.closedFill;
        ctx.fill();
        ctx.restore();
    }
};

function framePlugin(color, width) {
    return {
        id: 'frame',
        afterDatasetsDraw(chart) {
            const a = chart.chartArea, ctx = chart.ctx;
            ctx.save();
            ctx.strokeStyle = color;
            ctx.lineWidth = width;
            ctx.strokeRect(a.left, a.top, a.right - a.left, a.bottom - a.top);
            ctx.restore();
        }
    };
}

// text placed at data positions, on top of everything
function dataTextPlugin(items, font, color, dx) {
    return {
        id: 'dataText',
        afterDatasetsDraw(chart) {
            const ctx = chart.ctx;
            ctx.save();
            ctx.font = font;
            ctx.fillStyle = color;
            ctx.textAlign = dx ? 'left' : 'center';
            ctx.textBaseline = 'middle';
            items.forEach(([text, x, y]) => {
                ctx.fillText(text, chart.scales.x.getPixelForValue(x) + (dx || 0), chart.scales.y.getPixelForValue(y));
            });
            ctx.restore();
        }
    };
}

// rows of [y, x, x, ...] become points
function rowsToPoints(rows) {
    const out = [];
    rows.forEach(([y, ...xs]) => xs.forEach(x => out.push({ x, y })));
    return out;
}
const pairsToPoints = pairs => pairs.map(([x, y]) => ({ x, y }));

// ------------------------------------------------------------------ a
function drawViolins() {
    const lefts = [205, 379, 552, 725, 899, 1072, 1246, 1419.5];
    const titleX = [269.5, 440.7, 615, 789.6, 963.7, 1136.5, 1309.8, 1484];
    violinGenes.forEach((gene, g) => {
        const datasets = violinSets[g].map((profile, c) => {
            const right = [], leftSide = [];
            for (let i = 0; i < profile.length; i += 2) {
                leftSide.push({ x: clusterTicks[c] - profile[i + 1], y: profile[i] });
                right.unshift({ x: clusterTicks[c] + profile[i + 1], y: profile[i] });
            }
            const outline = leftSide.concat(right);
            outline.push(outline[0]);
            return {
                data: outline, showLine: true, pointRadius: 0, tension: .22,
                borderColor: '#333', borderWidth: 1.2, closedFill: clusterColors[c]
            };
        });
        makeChart({ l: lefts[g], t: 72.3, r: lefts[g] + 130, b: 230 }, { l: 30, t: 4, r: 6, b: 34 }, {
            type: 'scatter',
            data: { datasets },
            plugins: [closedFillPlugin],
            options: { scales: {
                x: axis({ min: .44, max: 4.6, at: clusterTicks, rotate: 45, font: { size: 16.5 }, padding: 3, border: { width: 2 } }),
                y: axis({ min: violinBottom[g], max: violinTop[g], at: violinYTicks[g], font: { size: 17 }, padding: 2, border: { width: 2 } })
            } }
        });
        addText(gene, titleX[g], 46, { size: 26, italic: true });
    });
    addText('Expression Level', 165.5, 156.7, { size: 21.5, rotate: -90 });
    addText('Clusters', 868, 286.7, { size: 27 });
}

// ------------------------------------------------------------------ b
function drawUmaps() {
    const panels = [
        { l: 258.5, r: 510, zero: 383.6, title: 398 },
        { l: 525.6, r: 776, zero: 649.7, title: 681.7 },
        { l: 788.8, r: 1040, zero: 913.4, title: 941 },
        { l: 1057, r: 1309, zero: 1182, title: 1204 }
    ];
    panels.forEach((p, i) => {
        const cloud = [];
        umapSets[i].forEach(([s, y, ...xs]) => xs.forEach(x => cloud.push({ x, y, s })));
        const pxPerUnit = 16.2;
        const traj = [trajRoot, trajLoop, trajTail].map(path => ({
            data: pairsToPoints(path), showLine: true, pointRadius: 0, borderColor: '#444', borderWidth: 2.1
        }));
        const datasets = [
            { data: [{ x: -4.13, y: 2.54 }], pointRadius: 3.6, pointBackgroundColor: '#fff', pointBorderColor: '#000', pointBorderWidth: 2.2 },
            ...traj,
            {
                data: cloud,
                pointRadius: ctx => (umapSets[i] === umapWt && (ctx.raw.y < -2 || ctx.raw.s > 12.5) ? 2.8 : 4.4),
                pointBackgroundColor: ctx => rampColor(scoreStops, ctx.raw.s),
                pointBorderColor: ctx => (ctx.raw.s > 6.5 && ctx.raw.s < 13 ? 'rgba(110,110,110,.4)' : 'rgba(60,60,60,.08)'),
                pointBorderWidth: .5
            }
        ];
        const first = i === 0;
        makeChart({ l: p.l, t: 369, r: p.r, b: 585.7 }, { l: first ? 42 : 0, t: 14, r: 3, b: 34 }, {
            type: 'scatter',
            data: { datasets },
            options: { scales: {
                x: axis({ min: (p.l - p.zero) / pxPerUnit, max: (p.r - p.zero) / pxPerUnit, at: umapXTicks, font: { size: 21 }, color: '#444', border: { width: 2 }, padding: 3, labelOffset: 4 }),
                y: axis({ min: -3.74, max: 4.04, at: umapYTicks, font: { size: 21 }, color: '#444', display: first, border: { width: 2 }, padding: 4 })
            } }
        });
        addText(umapTitles[i], p.title, 357.7, { size: 24.5, italic: true });
    });
    addText('UMAP2', 211.5, 476.7, { size: 27, rotate: -90 });
    addText('UMAP1', 800.5, 622.7, { size: 27 });

    addText('Trajectory', 1323.5, 387.7, { size: 24, left: true });
    addText('Score', 1330, 419, { size: 24, left: true });
    const pct = v => ((v + .65) / (22.5 + .65)) * 100;
    const grad = scoreStops.map(([v, c]) => `${c} ${pct(v)}%`).join(',');
    addBox(1342, 448, 24, 117, `background:linear-gradient(to top,${grad});`);
    [[20, 460.7], [15, 486], [10, 511], [5, 536.7], [0, 561.7]].forEach(([v, y]) => {
        addText(String(v), 1373.5, y, { size: 22, left: true });
        addBox(1342, y - .5, 5, 1, 'background:#fff;');
        addBox(1361, y - .5, 5, 1, 'background:#fff;');
    });
}

// ------------------------------------------------------------------ c, d
function drawGoPanel(terms, values, counts, rect, xMin, xMax, ticks) {
    const major = v => ticks.includes(v);
    const gridX = {
        drawOnChartArea: true, color: '#ececec', tickLength: 3,
        lineWidth: ctx => (ctx.tick && major(ctx.tick.value) ? 1.3 : .7),
        tickColor: ctx => (ctx.tick && major(ctx.tick.value) ? '#333' : 'transparent')
    };
    const allTicks = [];
    for (let i = 0; i < ticks.length; i++) {
        allTicks.push(ticks[i]);
        allTicks.push(ticks[i] + (ticks[1] - ticks[0]) / 2);
    }
    makeChart(rect, { l: 312, t: 3, r: 12, b: 24 }, {
        type: 'bar',
        data: { datasets: [{
            data: values.map((v, i) => ({ x: v, y: i })),
            backgroundColor: '#4f81bd', borderColor: '#a9c4e4', borderWidth: 1, barPercentage: .87, categoryPercentage: 1
        }] },
        plugins: [
            dataTextPlugin(counts.map((c, i) => [c, 0, i]), '14.7px ' + FONT, '#fff', 9),
            framePlugin('#7f7f7f', 1.5)
        ],
        options: {
            indexAxis: 'y',
            scales: {
                x: axis({
                    min: xMin, max: xMax, at: allTicks.filter(v => v <= xMax), grid: gridX,
                    label: v => (major(v) ? String(v) : ''), font: { size: 14 }, color: '#444', border: { display: false }, padding: 1
                }),
                y: axis({
                    min: -.59, max: 9.59, reverse: true, at: values.map((v, i) => i),
                    label: v => terms[v], font: { size: 14.8, lineHeight: 1.15 }, color: '#444', padding: 5,
                    grid: { drawOnChartArea: true, color: '#ececec', lineWidth: 1.3, tickColor: '#333', tickLength: 3 }, border: { display: false }
                })
            }
        }
    });
}

// ------------------------------------------------------------------ e, f
function drawNetwork(genes, edges, cx, cy, radius, startDeg, extra, labelNudge) {
    const pad = 100;
    const extent = 1 + pad / radius;
    const step = 360 / genes.length;
    const nodes = genes.map((name, i) => {
        const a = (startDeg + step * i) * Math.PI / 180;
        return { x: Math.sin(a), y: Math.cos(a), name };
    });
    if (extra) {
        const a = extra.angle * Math.PI / 180;
        nodes.push({ x: Math.sin(a) * extra.radius, y: Math.cos(a) * extra.radius, name: extra.name });
    }
    const links = [];
    edges.forEach(([hub, ...others]) => others.forEach(o => links.push(nodes[hub], nodes[o], { x: null, y: null })));

    const nodeRadius = 12.5;
    const labelPlugin = {
        id: 'nodeLabels',
        afterDatasetsDraw(chart) {
            const ctx = chart.ctx;
            ctx.save();
            ctx.font = '14.5px ' + FONT;
            ctx.fillStyle = '#000';
            ctx.textAlign = 'center';
            ctx.textBaseline = 'middle';
            nodes.forEach(n => {
                const len = Math.hypot(n.x, n.y), ux = n.x / len, uy = -n.y / len;
                const w = ctx.measureText(n.name).width;
                const px = chart.scales.x.getPixelForValue(n.x), py = chart.scales.y.getPixelForValue(n.y);
                const nudge = labelNudge[n.name] || [0, 0];
                ctx.fillText(n.name, px + ux * (nodeRadius + 4 + w / 2) + nudge[0], py + uy * (nodeRadius + 4 + 8) + nudge[1]);
            });
            ctx.restore();
        }
    };
    const size = radius + pad;
    makeChart({ l: cx - size, t: cy - size, r: cx + size, b: cy + size }, { l: 0, t: 0, r: 0, b: 0 }, {
        type: 'scatter',
        data: { datasets: [
            { data: nodes, pointRadius: nodeRadius, pointBackgroundColor: '#5e8dc8', pointBorderColor: '#fff', pointBorderWidth: 1, clip: false },
            { data: links, showLine: true, pointRadius: 0, borderColor: '#a3a3a3', borderWidth: 1.2, spanGaps: false }
        ] },
        plugins: [labelPlugin],
        options: { scales: {
            x: axis({ min: -extent, max: extent, at: [0], display: false }),
            y: axis({ min: -extent, max: extent, at: [0], display: false })
        } }
    });
}

// ------------------------------------------------------------------ g, h
function drawVolcano(rect, yMin, yMax, yTicks, sets, labels, leaders) {
    const leaderPoints = [];
    leaders.forEach(([x1, y1, x2, y2]) => leaderPoints.push({ x: x1, y: y1 }, { x: x2, y: y2 }, { x: null, y: null }));
    const dots = (data, color, r) => ({ data, pointRadius: r, pointBackgroundColor: color, pointBorderWidth: 0 });
    makeChart(rect, { l: 60, t: 3, r: 20, b: 38 }, {
        type: 'scatter',
        data: { datasets: [
            { data: leaderPoints, showLine: true, pointRadius: 0, borderColor: '#000', borderWidth: 1.2, spanGaps: false },
            dots(pairsToPoints(sets.black), '#000', 3.4),
            dots(pairsToPoints(sets.red).concat(rowsToPoints(sets.redRows)), '#dc3126', 2.7),
            dots(pairsToPoints(sets.blue).concat(rowsToPoints(sets.blueRows)), '#2c8ec4', 2.7),
            dots(pairsToPoints(sets.grey).concat(rowsToPoints(sets.greyRows)), '#bdbdbd', 2.7)
        ] },
        plugins: [dataTextPlugin(labels, '15px ' + FONT, '#000'), framePlugin('#444', 1.5)],
        options: { scales: {
            x: axis({ min: -1.098, max: 1.098, at: volcanoXTicks, label: v => v.toFixed(1).replace('-', '−'), font: { size: 22 }, border: { display: false }, padding: 2, grid: { tickLength: 4, color: '#333' } }),
            y: axis({ min: yMin, max: yMax, at: yTicks, font: { size: 22 }, border: { display: false }, padding: 2, grid: { tickLength: 4, color: '#333' } })
        } }
    });
}

// ------------------------------------------------------------------ i
const zRadius = z => 11.7 + (z - 2.4) * 7.5;

function drawRegulators(names, logP, z, rect, color, stripTop, stripText, titleX) {
    const major = v => v % 5 === 0;
    makeChart(rect, { l: 100, t: 3, r: 20, b: 34 }, {
        type: 'scatter',
        data: { datasets: [{
            data: logP.map((v, i) => ({ x: v, y: i, z: z[i] })),
            pointRadius: ctx => zRadius(ctx.raw.z), pointBackgroundColor: color, pointBorderWidth: 0
        }] },
        plugins: [framePlugin('#7f7f7f', 1.4)],
        options: { scales: {
            x: axis({
                min: 2.35, max: 20.04, at: regulatorTicks, label: v => (major(v) ? String(v) : ''),
                font: { size: 18 }, color: '#444', border: { display: false }, padding: 2, labelOffset: 2,
                grid: {
                    drawOnChartArea: true, color: '#ececec', tickLength: 3,
                    lineWidth: ctx => (ctx.tick && major(ctx.tick.value) ? 1.3 : .7),
                    tickColor: ctx => (ctx.tick && major(ctx.tick.value) ? '#333' : 'transparent')
                }
            }),
            y: axis({
                min: -.6, max: names.length - .4, reverse: true, at: names.map((n, i) => i), label: v => names[v],
                font: { size: 18 }, color: '#444', border: { display: false }, padding: 8,
                grid: { drawOnChartArea: true, color: '#ececec', lineWidth: 1.3, tickColor: '#333', tickLength: 3 }
            })
        } }
    });
    addBox(rect.l, stripTop, rect.r - rect.l, rect.t - stripTop, 'background:#d9d9d9;border:1.4px solid #7f7f7f;');
    addText(stripText, (rect.l + rect.r) / 2 + 3.5, (stripTop + rect.t) / 2, { size: 18.5, color: '#222' });
    addText('−log(p.value.of.overlap)', titleX, 2090, { size: 18.3 });
}

// ------------------------------------------------------------------ j
const percentRadius = p => 1.5 + .15 * p;

function drawDotPlot() {
    const points = [];
    dotPercent.forEach((row, r) => row.forEach((p, c) => points.push({ x: c, y: r, p, e: dotExpression[r][c] })));
    makeChart({ l: 1151, t: 1761.7, r: 1476, b: 2019 }, { l: 120, t: 3, r: 3, b: 75 }, {
        type: 'scatter',
        data: { datasets: [{
            data: points,
            pointRadius: ctx => percentRadius(ctx.raw.p),
            pointBackgroundColor: ctx => rampColor(exprStops, ctx.raw.e),
            pointBorderWidth: 0
        }] },
        options: { scales: {
            x: axis({ min: -.6, max: 5.62, at: dotGenes.map((g, i) => i), label: v => dotGenes[v], rotate: 55, font: { size: 20, style: 'italic' }, padding: 1 }),
            y: axis({ min: -.62, max: 3.6, reverse: true, at: [0, 1, 2, 3], label: v => dotGroups[v], font: { size: 20, style: 'italic', lineHeight: .77 }, padding: 5 })
        } }
    });

    addText('Average Expression', 1492.5, 1773, { size: 16.8, left: true });
    const pct = v => ((v + 1.45) / (1.36 + 1.45)) * 100;
    const grad = exprStops.map(([v, c]) => `${c} ${pct(v)}%`).join(',');
    addBox(1492.5, 1789, 18.5, 92.7, `background:linear-gradient(to top,${grad});`);
    [['1.0', 1801], ['0.5', 1817.7], ['0.0', 1834.3], ['−0.5', 1850.7], ['−1.0', 1867]].forEach(([t, y]) => {
        addText(t, 1519.5, y, { size: 15, left: true });
        addBox(1492.5, y - .5, 4, 1, 'background:#fff;');
        addBox(1507, y - .5, 4, 1, 'background:#fff;');
    });
    addText('Percent Expressed', 1492.5, 1907, { size: 16.8, left: true });
    [[10, 1932], [20, 1950.7], [30, 1969], [40, 1987.7], [50, 2006.7]].forEach(([p, y]) => {
        const r = percentRadius(p);
        addBox(1502 - r, y - r, 2 * r, 2 * r, 'background:#000;border-radius:50%;');
        addText(String(p), 1520.7, y, { size: 14.5, left: true });
    });
}

function drawRegulatorLegends() {
    addText('Activation.z.score', 824.6, 1774, { size: 18, left: true });
    [['2.4', 1804], ['2.6', 1833], ['2.8', 1865]].forEach(([t, y]) => {
        const r = zRadius(parseFloat(t));
        addBox(838 - r, y - r, 2 * r, 2 * r, 'background:#050505;border-radius:50%;');
        addText(t, 863, y, { size: 13.5, left: true, color: '#222' });
    });
    addText('Predicted Activation State', 812, 1920, { size: 18.4, left: true });
    addBox(821.4, 1946, 10, 10, 'background:#e5231f;border-radius:50%;');
    addText('Activated', 850, 1951, { size: 18, left: true });
    addBox(821.4, 1975, 10, 10, 'background:#35509f;border-radius:50%;');
    addText('Inhibited', 850, 1980, { size: 21, left: true });
}

// ------------------------------------------------------------------ page
function drawFigure() {
    [['a', 80, 54], ['b', 82, 325], ['c', 80, 668], ['d', 572, 664], ['e', 1022, 668], ['f', 1340, 666],
     ['g', 82, 1087], ['h', 864, 1085], ['i', 85, 1713], ['j', 1040, 1753]].forEach(([t, x, y]) => addText(t, x, y, { size: 35, bold: true, color: '#111' }));

    drawViolins();
    drawUmaps();

    addText('GO: Disease Module1 (D1) Markers', 316, 684, { size: 21.5 });
    addText('GO: Disease Module 2 (D2) Markers', 795, 684, { size: 21.5 });
    drawGoPanel(goD1Terms, goD1Values, goD1Counts, { l: 312.4, t: 726, r: 464, b: 967.7 }, -1.43, 34.7, [0, 10, 20, 30]);
    drawGoPanel(goD2Terms, goD2Values, goD2Counts, { l: 773.4, t: 726, r: 923.3, b: 967.7 }, -2.9, 69.9, [0, 20, 40, 60]);
    addText('−Log(FDR)', 392.7, 997, { size: 17 });
    addText('−Log(FDR)', 842, 1000.7, { size: 17 });

    addText('D1 Marker Genes', 1166, 668, { size: 24 });
    addText('D2 Marker Genes', 1544, 668, { size: 24 });
    drawNetwork(d1Genes, d1Edges, 1157.7, 850.7, 129, -3.6, null, {
        Hif1a: [5, 3], Ccl2: [5, 1], Il1a: [0, 5], Mapkapk2: [20, 5], Mapkapk3: [19, 12], Cd244: [7, 13], 'H2-K1': [3, 11], Il1b: [0, 4],
        Nfe2l2: [0, -5], Tnf: [0, -12], Zfp36: [1, -13], Nfkbiz: [11, -15], Tnfaip2: [21, -13], Relb: [15, -5], Il12rb2: [3, -3], Ctsb: [-7, -3],
        Cd84: [3, 4], Ccl4: [0, 7], Ccl3: [-5, 7], Icam1: [-11, 16], Abcg1: [-4, 1]
    });
    drawNetwork(d2Genes, d2Edges, 1524, 850, 120.5, -5, { name: 'Ifnar1', angle: 117, radius: 1.28 }, {
        Ifit1: [7, -3], Ddx60: [-4, -1], Irf3: [13, 9], Ifih1: [11, 12], Ddx58: [4, 5], Eif2ak2: [4, -1], Stat1: [4, -9], Ifnar1: [7, -13], Usp18: [0, 7],
        Rsad2: [13, -4], Parp14: [-1, 5], Ifit3: [8, 3], Oasl1: [19, 5], Oasl2: [1, 9], Ifit2: [-4, -4], Mx1: [0, -9], Isg15: [-4, -7], Herc6: [-9, 0]
    });

    addText('Cgas−/− P301S vs P301S', 413.7, 1074, { size: 23.3, italic: true });
    addText('(Astrocyte DEGs)', 413.7, 1103, { size: 23.3 });
    drawVolcano({ l: 229, t: 1128, r: 616, b: 1515 }, -5.2, 111.6, [0, 30, 60, 90],
        { black: astroBlack, red: astroRed, redRows: astroRedRows, blue: astroBlue, blueRows: astroBlueRows, grey: astroGrey, greyRows: astroGreyRows },
        astroLabels, astroLeaders);
    addText('Log2FC', 422, 1557, { size: 22 });
    addText('−Log10[FDR]', 180.7, 1321.7, { size: 22, rotate: -90 });

    addText('Cgas−/− P301S vs P301S', 1158, 1075, { size: 23.3, italic: true });
    addText('( Oligodendrocyte DEGs)', 1158, 1103, { size: 23.3 });
    drawVolcano({ l: 972.3, t: 1128, r: 1359.3, b: 1515 }, -7.37, 157.2, [0, 50, 100, 150],
        { black: oligoBlack, red: oligoRed, redRows: oligoRedRows, blue: oligoBlue, blueRows: oligoBlueRows, grey: oligoGrey, greyRows: oligoGreyRows },
        oligoLabels, oligoLeaders);
    addText('Log2FC', 1165.7, 1557, { size: 22 });
    addText('−Log10[FDR]', 911.7, 1321.7, { size: 22, rotate: -90 });

    addText('Astrocyte Upstream Regulators', 494.7, 1652, { size: 24.5 });
    drawRegulators(activatedNames, activatedLogP, activatedZ, { l: 189.6, t: 1717.3, r: 414.6, b: 2041.7 }, '#e5231f', 1691.7, 'Activated', 295.7);
    drawRegulators(inhibitedNames, inhibitedLogP, inhibitedZ, { l: 571.2, t: 1715.7, r: 796.2, b: 2040.3 }, '#35509f', 1690, 'Inhibited', 690);
    drawRegulatorLegends();

    addText('Interferon Stimulated Genes', 1317, 1723, { size: 24.5 });
    drawDotPlot();
}

document.addEventListener('DOMContentLoaded', drawFigure);
</script>
</body>
</html>
